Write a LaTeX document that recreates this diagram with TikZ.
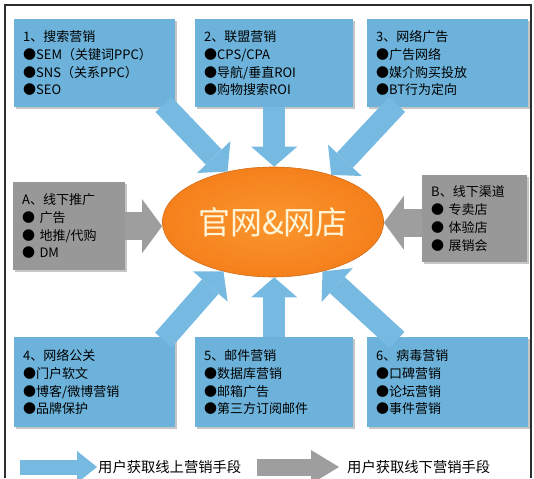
\documentclass[tikz,border=0pt]{standalone}
\usepackage{fontspec}
\setmainfont{Noto Sans CJK SC}
\usepackage{tikz}
\usetikzlibrary{arrows.meta, shapes.geometric, shadows}
\definecolor{boxblue}{RGB}{108,178,218}
\definecolor{arrowblue}{RGB}{118,186,226}
\definecolor{boxgray}{RGB}{152,152,152}
\definecolor{arrowgray}{RGB}{158,158,158}
\definecolor{ellorange}{RGB}{245,128,28}
\definecolor{ellinner}{RGB}{250,150,45}
\definecolor{elltext}{RGB}{255,244,214}
\definecolor{framegray}{RGB}{45,45,45}
\newcommand{\boxfont}{\fontsize{13}{17.8}\selectfont}

\begin{document}
\begin{tikzpicture}[
  x=1pt, y=-1pt,
  bluebox/.style={fill=boxblue,drop shadow={shadow xshift=2pt,shadow yshift=-2pt,opacity=.45},
                  anchor=north west,align=left,font=\boxfont,inner xsep=9pt,
                  minimum height=88pt,text width=#1},
  graybox/.style={bluebox=#1,fill=boxgray},
  bluearrow/.style={draw=arrowblue,line width=22pt,
                    -{Triangle[length=20pt,width=46pt,line width=0pt]}},
  grayarrow/.style={draw=arrowgray,line width=28pt,
                    -{Triangle[length=20pt,width=54pt,line width=0pt]}},
  legendtext/.style={anchor=west,inner sep=1pt,font=\fontsize{14.3}{16}\selectfont}
]
  \useasboundingbox (0,0) rectangle (534,478);
  \draw[framegray,line width=2.5pt] (5,478) -- (5,5) -- (531,5) -- (531,478);

  % online channels
  \node[bluebox=143pt] (s1) at (14,19) {1、搜索营销\\●SEM（关键词PPC）\\●SNS（关系PPC）\\●SEO};
  \node[bluebox=140pt] (s2) at (195,19) {2、联盟营销\\●CPS/CPA\\●导航/垂直ROI\\●购物搜索ROI};
  \node[bluebox=143pt] (s3) at (367,19) {3、网络广告\\●广告网络\\●媒介购买投放\\●BT行为定向};
  \node[bluebox=143pt, minimum height=90pt] (s4) at (14,337) {4、网络公关\\●门户软文\\●博客/微博营销\\●品牌保护};
  \node[bluebox=140pt, minimum height=90pt] (s5) at (195,337) {5、邮件营销\\●数据库营销\\●邮箱广告\\●第三方订阅邮件};
  \node[bluebox=143pt, minimum height=90pt] (s6) at (367,337) {6、病毒营销\\●口碑营销\\●论坛营销\\●事件营销};

  % offline channels
  \node[graybox=94pt] (sA) at (13,182) {A、线下推广\\● 广告\\● 地推/代购\\● DM};
  \node[graybox=87pt, minimum height=87pt] (sB) at (422,175) {B、线下渠道\\● 专卖店\\● 体验店\\● 展销会};

  \node[ellipse,draw=ellorange!85!black,line width=0.6pt,inner color=ellinner,outer color=ellorange,
        minimum width=174pt,minimum height=110pt,text=elltext,
        font=\fontsize{32}{34}\selectfont] (ell) at (273,222) {官网\&网店};

  \draw[bluearrow] ([xshift=-12pt,yshift=3pt]s1.south east) -- (ell.132);
  \draw[bluearrow] (s2.south) -- (s2.south |- ell.north);
  \draw[bluearrow] ([xshift=30pt,yshift=3pt]s3.south west) -- (ell.39);
  \draw[bluearrow] ([xshift=-12pt,yshift=-3pt]s4.north east) -- (ell.225);
  \draw[bluearrow] (s5.north) -- (s5.north |- ell.south);
  \draw[bluearrow] ([xshift=30pt,yshift=-3pt]s6.north west) -- (ell.-45);
  \draw[grayarrow] (sA.east) -- (sA.east -| ell.west);
  \draw[grayarrow] ([yshift=-4pt]sB.west) -- ([yshift=-4pt]sB.west -| ell.east);

  % legend
  \node[legendtext] (lgon) at (97,467) {用户获取线上营销手段};
  \node[legendtext] (lgoff) at (346,467) {用户获取线下营销手段};
  \coordinate (lgonstart) at (20,467);
  \coordinate (lgoffstart) at (257,467);
  \draw[draw=arrowblue,line width=15pt,-{Triangle[length=20pt,width=32pt,line width=0pt]}]
    (lgonstart) -- (lgon.west);
  \draw[draw=arrowgray,line width=17pt,-{Triangle[length=28pt,width=34pt,line width=0pt]}]
    (lgoffstart) -- ([xshift=-7pt]lgoff.west);
\end{tikzpicture}
\end{document}
